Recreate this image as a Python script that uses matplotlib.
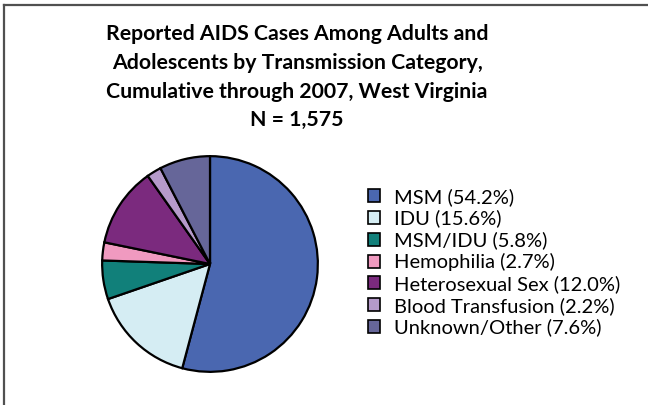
import matplotlib
matplotlib.use("Agg")
import matplotlib.pyplot as plt
from matplotlib.patches import Patch
from matplotlib.lines import Line2D

# data
categories = ["MSM", "IDU", "MSM/IDU", "Hemophilia", "Heterosexual Sex",
              "Blood Transfusion", "Unknown/Other"]
percents = [54.2, 15.6, 5.8, 2.7, 12.0, 2.2, 7.6]
colors = ["#4a67b0", "#d5edf3", "#11807a", "#f09ac0", "#7b2a7e",
          "#b59aca", "#666699"]
title_lines = ["Reported AIDS Cases Among Adults and",
               "Adolescents by Transmission Category,",
               "Cumulative through 2007, West Virginia",
               "N = 1,575"]

W, H = 648, 405
fig = plt.figure(figsize=(W / 100, H / 100), dpi=100)
fig.patch.set_facecolor("white")

# frame lines (top and left only)
fig.add_artist(Line2D([4 / W, 1], [1 - 5 / H, 1 - 5 / H], color="#505050", lw=1.6))
fig.add_artist(Line2D([4 / W, 4 / W], [0, 1 - 5 / H], color="#505050", lw=1.6))

# title
title_y = [34, 63, 92, 120]
for line, y in zip(title_lines, title_y):
    fig.text(297 / W, 1 - y / H, line, ha="center", va="center",
             fontsize=15.3, fontweight="bold", family="Lato", color="black")

# pie, center ~ (210, 264), radius ~108 px
cx, cy, r = 210, 264, 108
ax = fig.add_axes([(cx - r - 2) / W, 1 - (cy + r + 2) / H, (2 * r + 4) / W, (2 * r + 4) / H])
ax.pie(percents, colors=colors, startangle=90, counterclock=False,
       wedgeprops=dict(edgecolor="black", linewidth=1.6))
ax.set_aspect("equal")
ax.set_xlim(-1.02, 1.02)
ax.set_ylim(-1.02, 1.02)

# legend
labels = ["%s (%.1f%%)" % (c, p) for c, p in zip(categories, percents)]
handles = [Patch(facecolor=c, edgecolor="black", linewidth=1.2) for c in colors]
fig.legend(handles, labels, loc="upper left", bbox_to_anchor=(368 / W, 1 - 188 / H),
           frameon=False, prop=dict(family="Lato", size=14.5), handlelength=0.6,
           handleheight=0.6, handletextpad=0.7, labelspacing=0.19,
           borderpad=0, borderaxespad=0)

fig.savefig("out.png", dpi=100)
